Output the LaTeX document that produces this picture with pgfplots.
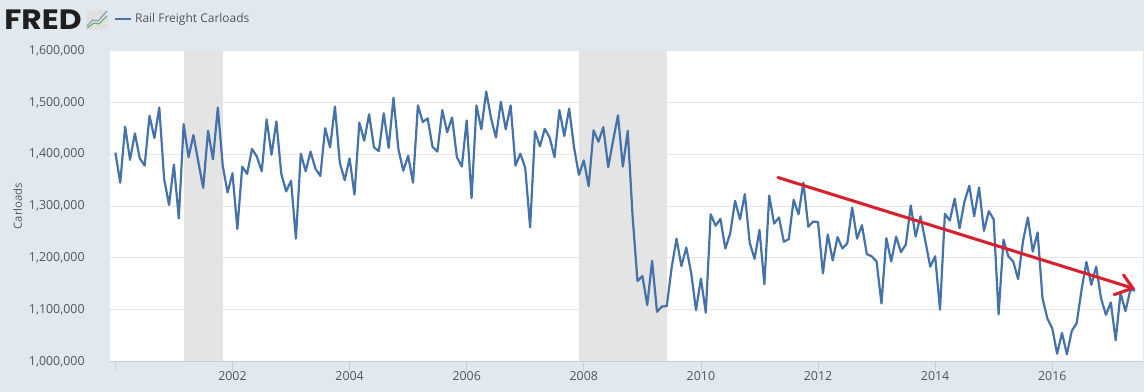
\documentclass[border=0pt]{standalone}
\usepackage{pgfplots}
\pgfplotsset{compat=1.18}
\usepackage{fontspec}
\setmainfont{Open Sans}
\newfontfamily\logofont{Poppins}
\definecolor{bgc}{HTML}{E1E9F0}
\definecolor{linec}{HTML}{4572A7}
\definecolor{txt}{HTML}{555555}
\definecolor{gridc}{HTML}{E6E6E6}
\definecolor{rec}{HTML}{E4E4E4}
\definecolor{arrowc}{HTML}{D7212E}
\definecolor{axc}{HTML}{C4D0E0}
\begin{document}
\begin{tikzpicture}[x=0.75pt,y=0.75pt]
\fill[bgc] (0,0) rectangle (1144,392);
\node[anchor=west,inner sep=0pt,font=\logofont\fontsize{21}{22}\selectfont\bfseries,text=black!88] at (4,372) {\scalebox{1.12}[1]{FRED}};
\fill[black!12] (86,362) rectangle (108,382);
\draw[linec!70,line width=0.8pt] (87,366) -- (93,372) -- (98,371) -- (107,381);
\draw[green!45!black!60,line width=0.8pt] (87,364) -- (94,369) -- (99,368) -- (107,376);
\begin{axis}[
  at={(110pt*0.75,30.5pt*0.75)},anchor=south west,
  scale only axis,width=774.75pt,height=233.25pt,
  xmin=-1.1,xmax=210.6,ymin=1000000,ymax=1600000,
  axis line style={draw=none},
  axis x line*=bottom,
  x axis line style={draw=axc,line width=0.6pt,-},
  axis background/.style={fill=white},
  xtick={0,24,48,72,96,120,144,168,192},
  xticklabels={,2002,2004,2006,2008,2010,2012,2014,2016},
  ytick={1000000,1100000,1200000,1300000,1400000,1500000,1600000},
  yticklabels={{1,000,000},{1,100,000},{1,200,000},{1,300,000},{1,400,000},{1,500,000},{1,600,000}},
  scaled ticks=false,
  yticklabel style={text=txt,font=\fontsize{9.3}{10}\selectfont,xshift=-8pt},
  xticklabel style={text=txt,font=\fontsize{9.3}{10}\selectfont,yshift=3.5pt},
  ymajorgrids,grid style={gridc,line width=0.6pt},
  major x tick style={draw=axc,line width=0.5pt},
  major y tick style={draw=none},
  major tick length=7.5pt,
  tick align=outside,xtick pos=bottom,ytick pos=left,
  ylabel={Carloads},ylabel style={text=txt,font=\fontsize{8.5}{10}\selectfont,at={(axis description cs:-0.0895,0.5)},anchor=center,yshift=0pt},
  clip=true,
  legend style={draw=none,fill=none,at={(axis description cs:0.0039,1)},anchor=south west,yshift=17pt,font=\fontsize{9}{10}\selectfont,text=txt,inner sep=0pt,/tikz/every even column/.style={column sep=3pt}},
  legend cell align=left,
  legend image code/.code={\draw[linec,line width=1.6pt] (0pt,0pt) -- (12pt,0pt);},
]
\addlegendimage{linec}
\addlegendentry{Rail Freight Carloads}
\addplot[draw=none,fill=rec,forget plot] coordinates {(14,1000000) (22,1000000) (22,1600000) (14,1600000)} -- cycle;
\addplot[draw=none,fill=rec,forget plot] coordinates {(95,1000000) (113,1000000) (113,1600000) (95,1600000)} -- cycle;
\addplot[linec,line width=1.65pt,line join=round,forget plot] table[x=i,y expr=\thisrow{v}*1000] {
i v
0 1403
1 1345
2 1453
3 1389
4 1440
5 1392
6 1378
7 1474
8 1431
9 1490
10 1352
11 1302
12 1380
13 1276
14 1458
15 1394
16 1437
17 1385
18 1335
19 1445
20 1390
21 1490
22 1378
23 1326
24 1363
25 1256
26 1376
27 1362
28 1410
29 1395
30 1367
31 1467
32 1399
33 1463
34 1362
35 1328
36 1349
37 1237
38 1401
39 1367
40 1405
41 1372
42 1358
43 1450
44 1413
45 1492
46 1383
47 1350
48 1392
49 1322
50 1461
51 1426
52 1477
53 1413
54 1406
55 1479
56 1412
57 1509
58 1410
59 1368
60 1397
61 1345
62 1494
63 1462
64 1469
65 1414
66 1405
67 1485
68 1442
69 1471
70 1394
71 1376
72 1465
73 1315
74 1494
75 1448
76 1521
77 1469
78 1432
79 1501
80 1448
81 1494
82 1378
83 1401
84 1373
85 1259
86 1444
87 1415
88 1449
89 1432
90 1394
91 1485
92 1435
93 1488
94 1413
95 1360
96 1388
97 1338
98 1446
99 1424
100 1452
101 1375
102 1426
103 1475
104 1376
105 1445
106 1280
107 1155
108 1165
109 1109
110 1194
111 1096
112 1106
113 1107
114 1181
115 1237
116 1184
117 1220
118 1171
119 1099
120 1160
121 1094
122 1284
123 1262
124 1275
125 1218
126 1247
127 1310
128 1274
129 1323
130 1229
131 1198
132 1254
133 1149
134 1320
135 1266
136 1278
137 1231
138 1236
139 1312
140 1284
141 1345
142 1260
143 1270
144 1269
145 1170
146 1245
147 1195
148 1240
149 1218
150 1228
151 1297
152 1237
153 1263
154 1207
155 1203
156 1193
157 1112
158 1238
159 1193
160 1241
161 1211
162 1226
163 1301
164 1241
165 1280
166 1232
167 1183
168 1203
169 1100
170 1285
171 1272
172 1314
173 1257
174 1308
175 1339
176 1280
177 1336
178 1252
179 1290
180 1274
181 1091
182 1235
183 1203
184 1193
185 1159
186 1232
187 1278
188 1212
189 1249
190 1122
191 1083
192 1064
193 1015
194 1055
195 1014
196 1059
197 1074
198 1138
199 1192
200 1148
201 1183
202 1122
203 1090
204 1114
205 1041
206 1132
207 1097
208 1138
209 1137
};
\addplot[arrowc,line width=2.3pt,line cap=round,forget plot] coordinates {(135.8,1355000) (208.5,1141500)};
\addplot[arrowc,line width=2.3pt,line cap=round,line join=miter,forget plot] coordinates {(206.6,1167000) (208.5,1141500) (204.7,1129000)};
\end{axis}
\end{tikzpicture}
\end{document}
